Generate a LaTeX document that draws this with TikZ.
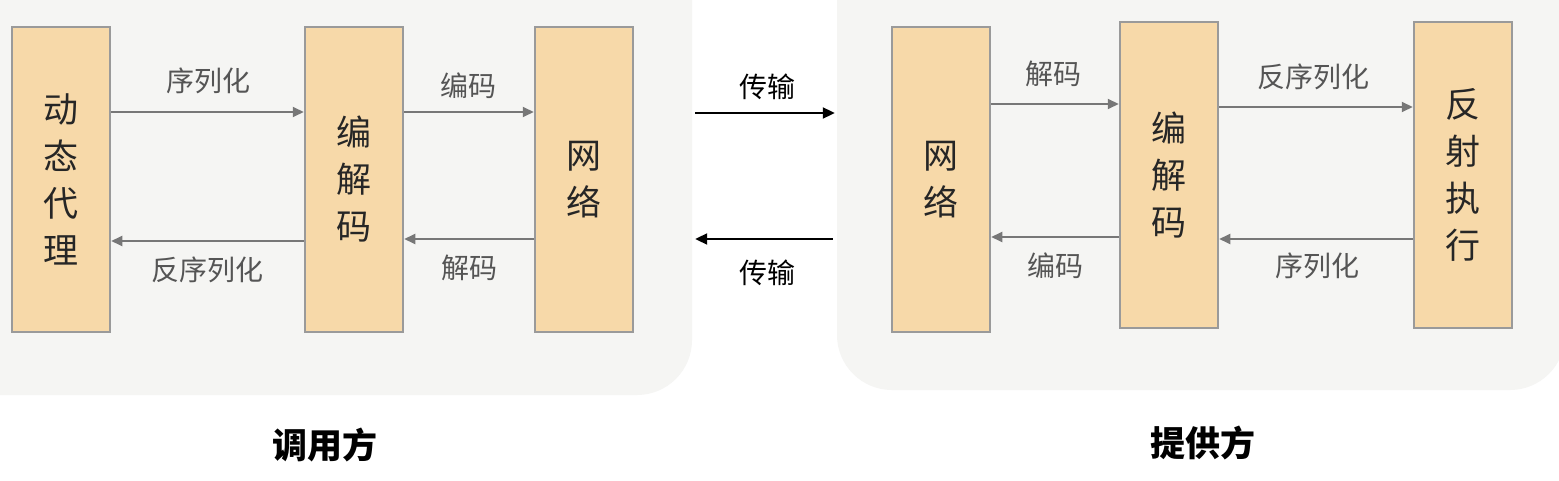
\documentclass[tikz,border=0pt]{standalone}
\usepackage{fontspec}
\newfontfamily\cjk{Noto Sans CJK SC}
\usetikzlibrary{arrows.meta}
\definecolor{panelbg}{HTML}{F5F5F3}
\definecolor{boxfill}{HTML}{F7D9A9}
\definecolor{boxline}{HTML}{9A9A9A}
\definecolor{arrgray}{HTML}{777777}
\definecolor{lblgray}{HTML}{555555}
\tikzset{
  panel/.style={draw=none, fill=panelbg, rounded corners=55pt, inner sep=0pt},
  stage/.style={draw=boxline, line width=2.5pt, fill=boxfill, inner sep=0pt,
    minimum width=98pt, align=center, text=black!85,
    font=\cjk\fontsize{35}{47}\selectfont},
  arr/.style={draw=arrgray, line width=2pt, -{Triangle[length=11pt,width=10pt]}},
  tarr/.style={draw=black, line width=2pt, -{Triangle[length=12pt,width=11pt]}},
  lbl/.style={inner sep=0pt, text=lblgray, font=\cjk\fontsize{28}{32}\selectfont},
  tlbl/.style={inner sep=0pt, text=black, font=\cjk\fontsize{28}{32}\selectfont},
  side/.style={inner sep=0pt, text=black, font=\cjk\bfseries\fontsize{35}{40}\selectfont}
}
\begin{document}
\begin{tikzpicture}[x=1pt, y=-1pt]
\useasboundingbox (0,0) rectangle (1559,481);
\fill[white] (0,0) rectangle (1559,481);
% panels
\node[panel, minimum width=752pt, minimum height=455pt] (lp) at (316,167.5) {};
\node[panel, minimum width=728pt, minimum height=450pt] (rp) at (1201,165) {};
% left stages
\node[stage, minimum height=305pt] (dt) at (61,179.5) {动\\态\\代\\理};
\node[stage, minimum height=305pt] (bj) at (354,179.5) {编\\解\\码};
\node[stage, minimum height=305pt] (wl) at (584,179.5) {网\\络};
% right stages
\node[stage, minimum height=305pt] (wr) at (941,179.5) {网\\络};
\node[stage, minimum height=306pt] (bj2) at (1169,175) {编\\解\\码};
\node[stage, minimum height=306pt] (fs) at (1463,175) {反\\射\\执\\行};
% left connectors
\draw[arr] (dt.east |- 0,112) -- (bj.west |- 0,112);
\draw[arr] (bj.east |- 0,112) -- (wl.west |- 0,112);
\draw[arr] (bj.west |- 0,241) -- (dt.east |- 0,241);
\draw[arr] (wl.west |- 0,239) -- (bj.east |- 0,239);
\node[lbl] (l1) at (208,81) {序列化};
\node[lbl] (l2) at (468,86) {编码};
\node[lbl] (l3) at (207,270) {反序列化};
\node[lbl] (l4) at (469,268) {解码};
% right connectors
\draw[arr] (wr.east |- 0,104) -- (bj2.west |- 0,104);
\draw[arr] (bj2.east |- 0,107) -- (fs.west |- 0,107);
\draw[arr] (bj2.west |- 0,237) -- (wr.east |- 0,237);
\draw[arr] (fs.west |- 0,239) -- (bj2.east |- 0,239);
\node[lbl] (r1) at (1053,74) {解码};
\node[lbl] (r2) at (1313,77) {反序列化};
\node[lbl] (r3) at (1055,266) {编码};
\node[lbl] (r4) at (1317,266) {序列化};
% transmission
\draw[tarr] ([xshift=3pt]lp.east |- 0,113) -- ([xshift=-2pt]rp.west |- 0,113);
\draw[tarr] ([xshift=-4pt]rp.west |- 0,239) -- ([xshift=3pt]lp.east |- 0,239);
\node[tlbl] (t1) at (767,87) {传输};
\node[tlbl] (t2) at (767,273) {传输};
% sides
\node[side] (caller) at (325,445) {调用方};
\node[side] (provider) at (1203,443) {提供方};
\end{tikzpicture}
\end{document}
